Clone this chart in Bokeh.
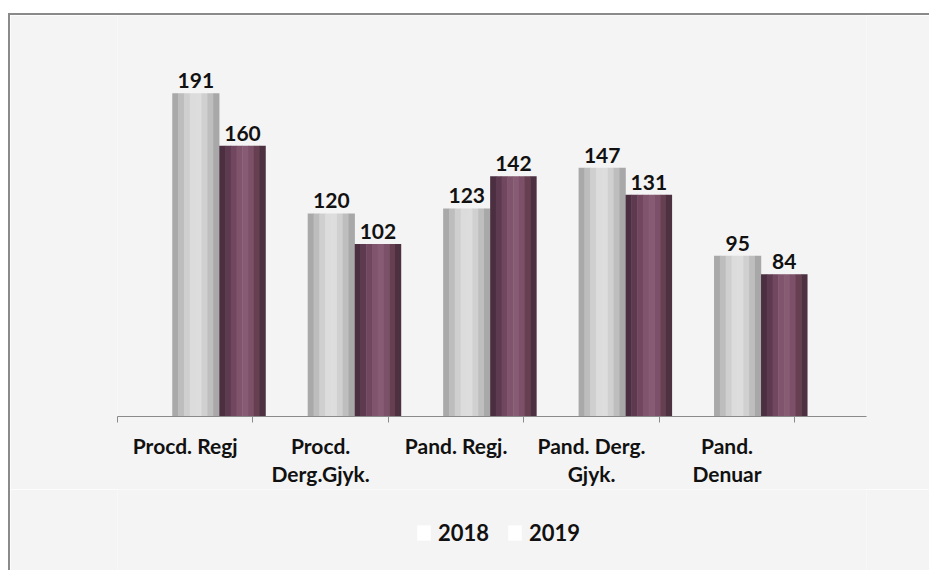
from bokeh.plotting import figure
from bokeh.layouts import column
from bokeh.models import ColumnDataSource, FixedTicker, Legend, LegendItem, Range1d
from bokeh.core.properties import value
from bokeh.embed import file_html
from bokeh.resources import INLINE

categories = ["Procd. Regj", "Procd.\nDerg.Gjyk.", "Pand. Regj.", "Pand. Derg.\nGjyk.", "Pand.\nDenuar"]
series = ["2018", "2019"]
v2018 = [191, 120, 123, 147, 95]
v2019 = [160, 102, 142, 131, 84]

FONT = "Lato"
BG = "#f4f4f4"
GRAY_SHADES = ["#a9a9a9", "#bdbdbd", "#cfcfcf", "#dcdcdc", "#dddddd", "#d0d0d0", "#bebebe", "#a8a8a8"]
PURPLE_SHADES = ["#4b2f40", "#5d3a50", "#70475e", "#80546c", "#875b73", "#7c5068", "#664050", "#4d3141"]

W = 919
p = figure(width=W, height=474,
           x_range=Range1d(-0.5, 5.03), y_range=Range1d(0, 237),
           output_backend="svg", toolbar_location=None, y_axis_location=None,
           min_border_left=107, min_border_right=63, min_border_top=0, min_border_bottom=0)
p.background_fill_color = BG
p.border_fill_color = BG
p.outline_line_color = None
p.xgrid.visible = False
p.ygrid.visible = False

n = len(categories)
gw, pw = 0.345, 0.34
g0, p0 = -0.094, 0.253
ns = len(GRAY_SHADES)
for k in range(ns):
    xs = [i + g0 + gw * (k + 0.5) / ns for i in range(n)]
    p.vbar(x=xs, top=v2018, bottom=0, width=gw / ns * 1.08, fill_color=GRAY_SHADES[k], line_color=None)
for k in range(ns):
    xs = [i + p0 + pw * (k + 0.5) / ns for i in range(n)]
    p.vbar(x=xs, top=v2019, bottom=0, width=pw / ns * 1.08, fill_color=PURPLE_SHADES[k], line_color=None)

gx = [i + g0 + gw / 2 for i in range(n)]
px = [i + p0 + pw / 2 for i in range(n)]
for xs, vals in ((gx, v2018), (px, v2019)):
    p.text(x=xs, y=vals, text=[str(v) for v in vals], text_align="center", text_baseline="bottom",
           y_offset=-5, text_font=value(FONT), text_font_style="bold", text_font_size="21px",
           text_color="#111111")

ax = p.xaxis[0]
ax.ticker = FixedTicker(ticks=list(range(n)), minor_ticks=[i - 0.5 for i in range(n + 1)])
ax.major_label_overrides = {i: categories[i] for i in range(n)}
ax.major_tick_line_color = None
ax.minor_tick_in = 0
ax.minor_tick_out = 6
ax.minor_tick_line_color = "#8a8a8a"
ax.axis_line_color = "#8a8a8a"
ax.major_label_standoff = 10
ax.major_label_text_font = FONT
ax.major_label_text_font_style = "bold"
ax.major_label_text_font_size = "21px"
ax.major_label_text_line_height = 1.15
ax.major_label_text_color = "#111111"

# legend strip below the chart
p2 = figure(width=W, height=81, x_range=Range1d(0, 1), y_range=Range1d(0, 1),
            output_backend="svg", toolbar_location=None, x_axis_location=None, y_axis_location=None,
            min_border=0)
p2.background_fill_color = BG
p2.border_fill_color = BG
p2.outline_line_color = None
p2.xgrid.visible = False
p2.ygrid.visible = False
nan = float("nan")
src1 = ColumnDataSource(data=dict(x=[nan], top=[nan]))
src2 = ColumnDataSource(data=dict(x=[nan], top=[nan]))
r1 = p2.vbar(x="x", top="top", width=0.1, source=src1, fill_color="white", line_color=None)
r2 = p2.vbar(x="x", top="top", width=0.1, source=src2, fill_color="white", line_color=None)
legend = Legend(items=[LegendItem(label=series[0], renderers=[r1], index=0),
                       LegendItem(label=series[1], renderers=[r2], index=0)],
                orientation="horizontal", location=(298, 24), glyph_width=17, glyph_height=19,
                label_standoff=6, spacing=17, label_text_font=FONT, label_text_font_style="bold",
                label_text_font_size="22px", label_text_color="#111111",
                background_fill_alpha=0, border_line_color=None, padding=0, margin=0)
p2.add_layout(legend)

layout = column(p, p2, spacing=0)
layout.styles = {"margin-left": "8px", "margin-top": "13px",
                 "border-top": "2px solid #8a8a8a", "border-left": "2px solid #8a8a8a"}

open("out.html", "w").write(file_html(layout, INLINE))
